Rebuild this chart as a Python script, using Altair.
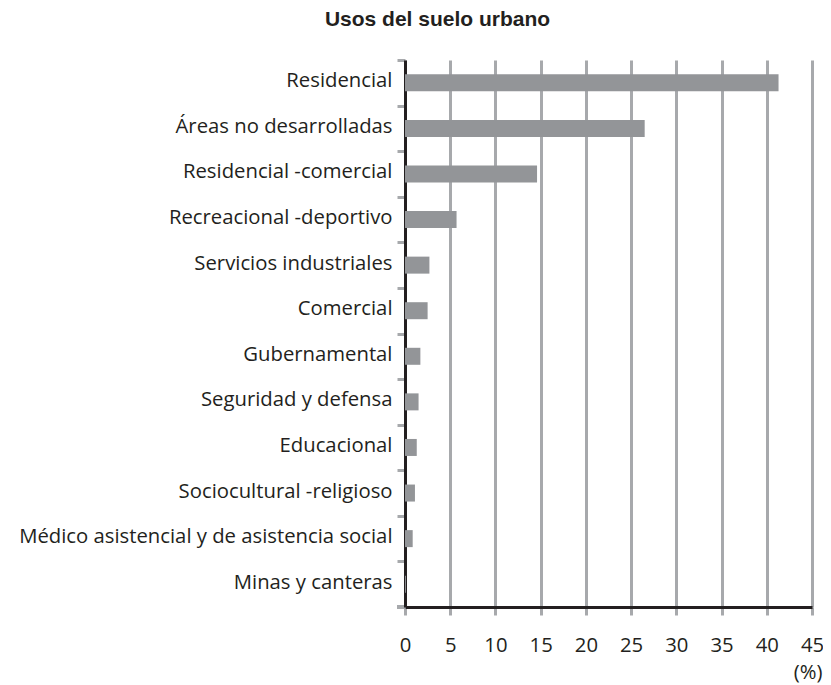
import altair as alt
import pandas as pd

categories = [
    "Residencial",
    "Áreas no desarrolladas",
    "Residencial -comercial",
    "Recreacional -deportivo",
    "Servicios industriales",
    "Comercial",
    "Gubernamental",
    "Seguridad y defensa",
    "Educacional",
    "Sociocultural -religioso",
    "Médico asistencial y de asistencia social",
    "Minas y canteras",
]
values = [41.3, 26.5, 14.6, 5.7, 2.7, 2.5, 1.7, 1.5, 1.3, 1.1, 0.85, 0.1]
x_ticks = [0, 5, 10, 15, 20, 25, 30, 35, 40, 45]

df = pd.DataFrame({"uso": categories, "pct": values})

DARK = "#231f20"
GRID = "#a7a9ac"
BAR = "#939598"
FONT = "Open Sans"
FS = 20.3

W, H = 407, 547

bars = alt.Chart(df).mark_bar(size=17, color=BAR).encode(
    x=alt.X(
        "pct:Q",
        scale=alt.Scale(domain=[0, 45], nice=False, zero=True),
        axis=alt.Axis(
            values=x_ticks,
            title="(%)",
            titleFont=FONT,
            titleFontSize=FS,
            titleFontWeight="normal",
            titleColor=DARK,
            titleX=W + 10,
            titleY=71,
            titleAlign="right",
            titleBaseline="alphabetic",
            titleAngle=0,
            labelFont=FONT,
            labelFontSize=FS,
            labelColor=DARK,
            labelPadding=20,
            labelFlush=False,
            labelOverlap=False,
            tickColor=GRID,
            tickWidth=3,
            tickSize=8,
            domainColor=DARK,
            domainWidth=3,
            grid=True,
            gridColor=GRID,
            gridWidth=3,
            gridOpacity=1,
        ),
    ),
    y=alt.Y(
        "uso:N",
        sort=None,
        scale=alt.Scale(paddingInner=0, paddingOuter=0),
        axis=alt.Axis(
            title=None,
            labelFont=FONT,
            labelFontSize=FS,
            labelColor=DARK,
            labelPadding=5,
            labelOffset=-2,
            labelLimit=500,
            tickColor=GRID,
            tickWidth=3,
            tickSize=8,
            tickBand="extent",
            domainColor=DARK,
            domainWidth=3,
            grid=False,
        ),
    ),
)

bottom_tick = alt.Chart(df).mark_rule(color=GRID, strokeWidth=3).encode(
    x=alt.value(-8), x2=alt.value(-1), y=alt.value(H)
)

chart = (
    alt.layer(bottom_tick, bars)
    .properties(
        width=W,
        height=H,
        title=alt.TitleParams(
            "Usos del suelo urbano",
            font="Liberation Sans",
            fontSize=21,
            fontWeight="bold",
            color=DARK,
            anchor="middle",
            dx=-171,
            offset=20,
        ),
        autosize=alt.AutoSizeParams(type="none"),
        padding={"left": 397, "top": 52, "right": 11, "bottom": 76},
    )
    .configure_view(stroke=None)
)

chart.save("out.html", embed_options={"renderer": "svg", "actions": False})
